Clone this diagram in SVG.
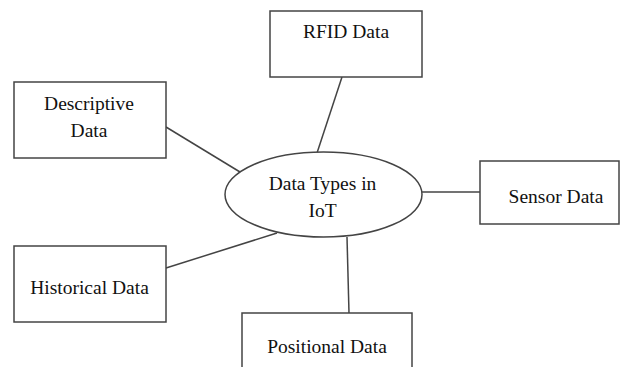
<svg xmlns="http://www.w3.org/2000/svg" width="621" height="367" viewBox="0 0 621 367">
<style>
.box{fill:#fff;stroke:#444;stroke-width:1.5}
.ln{stroke:#444;stroke-width:1.5;fill:none}
text{font-family:"Liberation Serif","Times New Roman",serif;font-size:19.5px;fill:#111;text-anchor:middle}
</style>
<rect width="621" height="367" fill="#fff"/>
<g id="connectors">
<line class="ln" x1="342" y1="77" x2="317" y2="153"/>
<line class="ln" x1="166" y1="127" x2="240" y2="172"/>
<line class="ln" x1="422" y1="192" x2="480" y2="192"/>
<line class="ln" x1="166" y1="268" x2="277" y2="233"/>
<line class="ln" x1="347" y1="237" x2="349" y2="313"/>
</g>
<g id="center">
<ellipse class="box" cx="323.5" cy="194.5" rx="98.5" ry="42.5"/>
<text x="322.5" y="190">Data Types in</text>
<text x="322.5" y="217">IoT</text>
</g>
<g id="rfid">
<rect class="box" x="270" y="11" width="152" height="66"/>
<text x="346" y="38">RFID Data</text>
</g>
<g id="descriptive">
<rect class="box" x="14" y="82" width="152" height="76"/>
<text x="89" y="110">Descriptive</text>
<text x="89" y="137">Data</text>
</g>
<g id="sensor">
<rect class="box" x="480" y="161" width="139" height="63"/>
<text x="556" y="203">Sensor Data</text>
</g>
<g id="historical">
<rect class="box" x="14" y="246" width="152" height="76"/>
<text x="89.5" y="294">Historical Data</text>
</g>
<g id="positional">
<rect class="box" x="242" y="313" width="170" height="70"/>
<text x="327" y="353">Positional Data</text>
</g>
</svg>
